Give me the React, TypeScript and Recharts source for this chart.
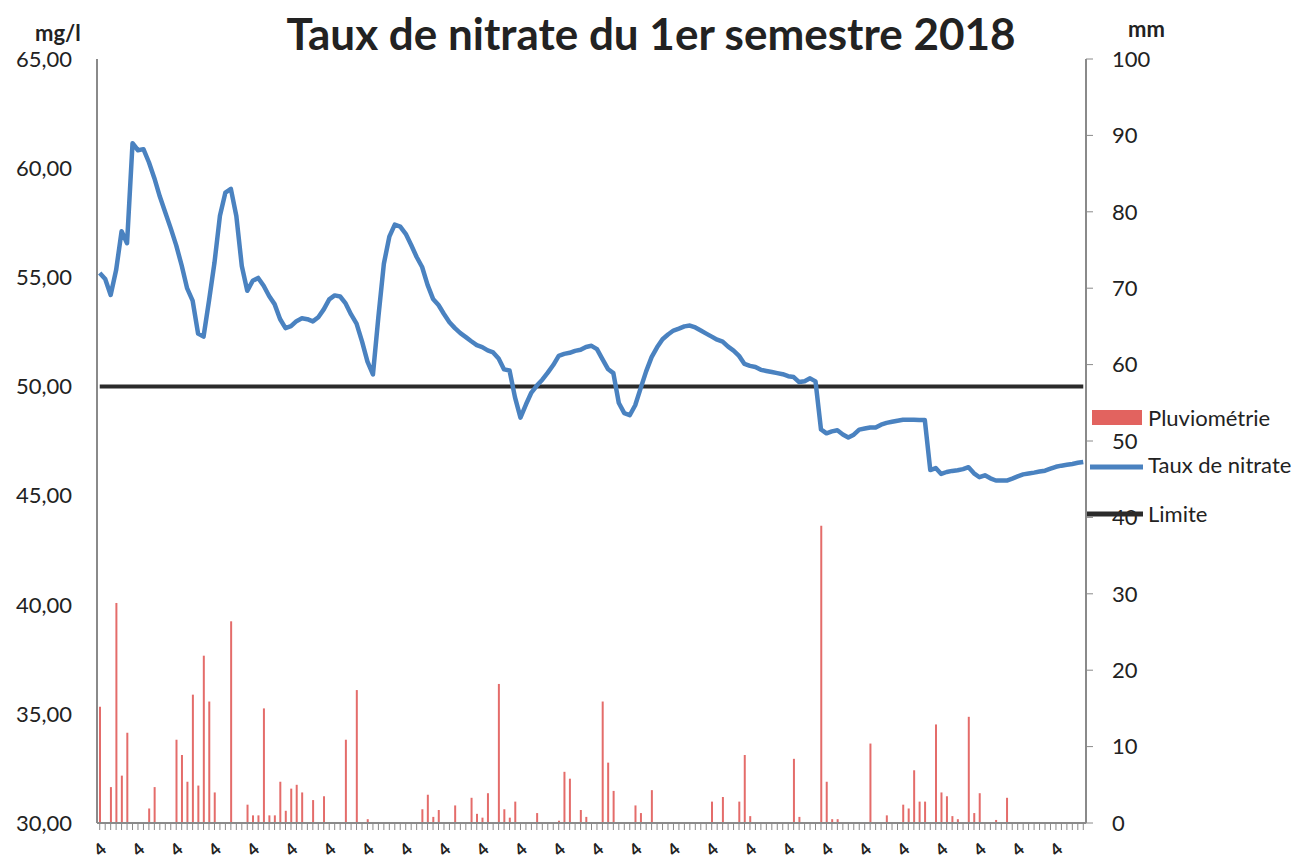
import { Bar, ComposedChart, Legend, Line, XAxis, YAxis } from 'recharts';

const FONT = 'Lato, "Open Sans", sans-serif';

// taux de nitrate journalier (mg/l), 1er janvier -> 30 juin 2018
const nitrate = [
  55.2, 54.92, 54.19, 55.33, 57.11, 56.56, 61.14, 60.82, 60.87, 60.27,
  59.54, 58.7, 57.97, 57.24, 56.46, 55.54, 54.49, 53.93, 52.42, 52.28,
  53.93, 55.67, 57.82, 58.88, 59.05, 57.81, 55.52, 54.38, 54.84, 54.97,
  54.61, 54.14, 53.77, 53.09, 52.67, 52.76, 52.99, 53.12, 53.08, 52.98,
  53.17, 53.53, 53.99, 54.17, 54.12, 53.8, 53.3, 52.88, 52.06, 51.14,
  50.55, 53.19, 55.62, 56.86, 57.41, 57.32, 56.99, 56.48, 55.93, 55.47,
  54.65, 54.01, 53.73, 53.32, 52.94, 52.67, 52.44, 52.26, 52.07, 51.89,
  51.8, 51.65, 51.56, 51.28, 50.78, 50.73, 49.5, 48.57, 49.17, 49.72,
  50.04, 50.31, 50.63, 50.98, 51.4, 51.49, 51.54, 51.63, 51.68, 51.81,
  51.86, 51.71, 51.25, 50.8, 50.61, 49.24, 48.78, 48.68, 49.14, 49.92,
  50.69, 51.34, 51.79, 52.16, 52.38, 52.56, 52.65, 52.75, 52.79, 52.7,
  52.56, 52.42, 52.28, 52.14, 52.05, 51.82, 51.64, 51.4, 51.03, 50.94,
  50.89, 50.76, 50.71, 50.66, 50.61, 50.56, 50.47, 50.43, 50.2, 50.24,
  50.37, 50.23, 48.03, 47.85, 47.94, 47.99, 47.8, 47.66, 47.79, 48.02,
  48.07, 48.12, 48.12, 48.25, 48.33, 48.38, 48.43, 48.47, 48.47, 48.47,
  48.46, 48.46, 46.17, 46.26, 45.99, 46.08, 46.13, 46.16, 46.21, 46.3,
  46.02, 45.84, 45.93, 45.79, 45.69, 45.69, 45.69, 45.78, 45.88, 45.97,
  46.01, 46.05, 46.1, 46.14, 46.23, 46.32, 46.37, 46.41, 46.45, 46.5,
  46.54,
];

// jours de pluie (index du jour) et hauteur relevée (mm)
const rainDays = [
  0, 2, 3, 4, 5, 9, 10, 14, 15, 16, 17, 18, 19, 20, 21, 24, 27, 28, 29, 30,
  31, 32, 33, 34, 35, 36, 37, 39, 41, 45, 47, 49, 59, 60, 61, 62, 65, 68, 69, 70,
  71, 73, 74, 75, 76, 80, 84, 85, 86, 88, 89, 92, 93, 94, 98, 99, 101, 112, 114, 117,
  118, 119, 127, 128, 132, 133, 134, 135, 141, 144, 147, 148, 149, 150, 151, 153, 154, 155, 156, 157,
  159, 160, 161, 164, 166,
];
const rainMm = [
  15.2, 4.7, 28.8, 6.2, 11.8, 1.9, 4.7, 10.9, 8.9, 5.4, 16.8, 4.9, 21.9, 15.9, 4.0, 26.4, 2.4, 1.0, 1.0, 15.0,
  1.0, 1.0, 5.4, 1.6, 4.5, 5.0, 4.0, 3.0, 3.5, 10.9, 17.4, 0.5, 1.8, 3.7, 0.8, 1.7, 2.3, 3.3, 1.2, 0.7,
  3.9, 18.2, 1.8, 0.7, 2.8, 1.3, 0.3, 6.7, 5.8, 1.7, 0.8, 15.9, 7.9, 4.2, 2.3, 1.3, 4.3, 2.8, 3.4, 2.8,
  8.9, 0.9, 8.4, 0.8, 38.9, 5.4, 0.5, 0.5, 10.4, 1.0, 2.4, 1.9, 6.9, 2.8, 2.8, 12.9, 4.0, 3.5, 0.9, 0.5,
  13.9, 1.3, 3.9, 0.4, 3.3,
];

const limite = 50;
const leftTicks = [30, 35, 40, 45, 50, 55, 60, 65];
const rightTicks = [0, 10, 20, 30, 40, 50, 60, 70, 80, 90, 100];
const weekLabel = '4';
const labelEvery = 7;

const data = nitrate.map((v, i) => {
  const r = rainDays.indexOf(i);
  return { day: i + 1, nitrate: v, limite, pluvio: r >= 0 ? rainMm[r] : 0 };
});

const axisGrey = '#8a8a8a';

function DayTick(props: any) {
  const { x, y, index } = props;
  if (index % labelEvery !== 0) return <g />;
  const cy = y + 17;
  return (
    <text
      x={x}
      y={cy}
      textAnchor="middle"
      dominantBaseline="central"
      transform={`rotate(-40 ${x} ${cy})`}
      fontFamily={FONT}
      fontSize={17}
      fontWeight={700}
      fill="#222"
    >
      {weekLabel}
    </text>
  );
}

function LegendBox() {
  return (
    <svg width={226} height={130} style={{ overflow: 'visible' }}>
      <rect x={6} y={10} width={50} height={15} fill="#e2635f" />
      <text x={62} y={17} dominantBaseline="central" fontFamily={FONT} fontSize={22} fill="#222">
        Pluviométrie
      </text>
      <line x1={4} x2={57} y1={67} y2={67} stroke="#4a82c0" strokeWidth={5} />
      <text x={62} y={64} dominantBaseline="central" fontFamily={FONT} fontSize={22} fill="#222">
        Taux de nitrate
      </text>
      <line x1={1} x2={57} y1={114} y2={114} stroke="#2b2b2b" strokeWidth={5} />
      <text x={62} y={113} dominantBaseline="central" fontFamily={FONT} fontSize={22} fill="#222">
        Limite
      </text>
    </svg>
  );
}

export default function App() {
  return (
    <div style={{ position: 'absolute', left: 0, top: 0, width: 1312, height: 863, background: '#fff' }}>
      <ComposedChart
        width={1312}
        height={863}
        data={data}
        margin={{ top: 59, right: 176, bottom: 0, left: 0 }}
      >
        <XAxis
          dataKey="day"
          interval={0}
          tick={<DayTick />}
          tickSize={7}
          tickLine={{ stroke: axisGrey, strokeWidth: 1 }}
          axisLine={{ stroke: axisGrey, strokeWidth: 2 }}
          height={40}
        />
        <YAxis
          yAxisId="left"
          domain={[30, 65]}
          ticks={leftTicks}
          tickFormatter={(v: number) => v.toFixed(2).replace('.', ',')}
          width={97}
          tickLine={false}
          tickSize={0}
          tickMargin={25}
          axisLine={{ stroke: axisGrey, strokeWidth: 2 }}
          tick={{ fill: '#222', fontSize: 22, fontFamily: FONT }}
          allowDataOverflow
        />
        <YAxis
          yAxisId="right"
          orientation="right"
          domain={[0, 100]}
          ticks={rightTicks}
          width={50}
          tickSize={7}
          tickMargin={19}
          tickLine={{ stroke: axisGrey, strokeWidth: 1 }}
          axisLine={{ stroke: axisGrey, strokeWidth: 2 }}
          tick={{ fill: '#222', fontSize: 22, fontFamily: FONT, textAnchor: 'start' }}
        />
        <Bar yAxisId="right" dataKey="pluvio" name="Pluviométrie" fill="#e46c6a" barSize={2} isAnimationActive={false} />
        <Line
          yAxisId="left"
          dataKey="limite"
          name="Limite"
          stroke="#2b2b2b"
          strokeWidth={4}
          dot={false}
          activeDot={false}
          isAnimationActive={false}
        />
        <Line
          yAxisId="left"
          dataKey="nitrate"
          name="Taux de nitrate"
          stroke="#4a82c0"
          strokeWidth={4.5}
          strokeLinejoin="round"
          dot={false}
          activeDot={false}
          isAnimationActive={false}
        />
        <Legend
          layout="vertical"
          align="center"
          verticalAlign="middle"
          content={() => <LegendBox />}
          wrapperStyle={{ left: 1086, top: 400, width: 226 }}
        />
      </ComposedChart>
      <svg
        width={1312}
        height={863}
        style={{ position: 'absolute', left: 0, top: 0, pointerEvents: 'none' }}
      >
        <text x={651} y={50} textAnchor="middle" fontFamily={FONT} fontSize={44} fontWeight={700} fill="#222">
          Taux de nitrate du 1er semestre 2018
        </text>
        <text x={35} y={41} fontFamily={FONT} fontSize={22} fontWeight={700} fill="#222">
          mg/l
        </text>
        <text x={1128} y={37} fontFamily={FONT} fontSize={22} fontWeight={700} fill="#222">
          mm
        </text>
      </svg>
    </div>
  );
}
